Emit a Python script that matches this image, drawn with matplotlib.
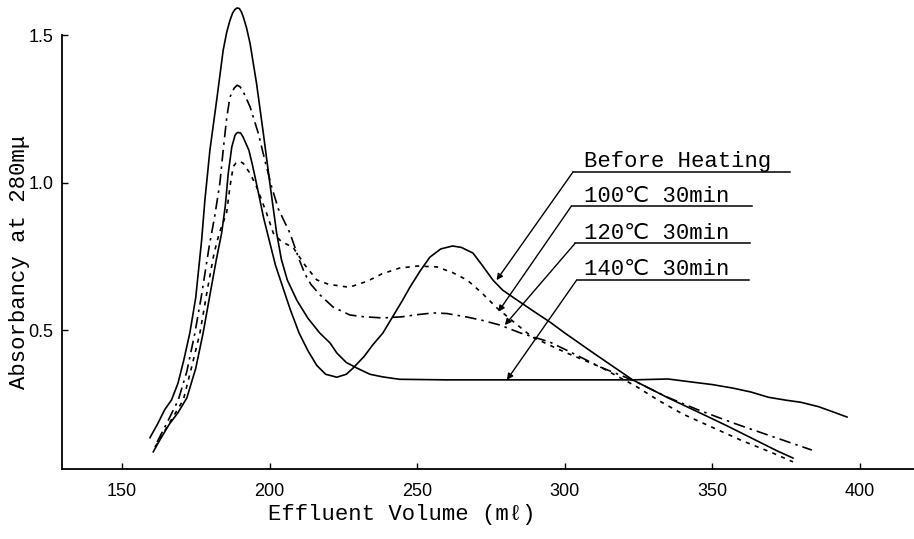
import matplotlib
matplotlib.use('Agg')
import matplotlib.pyplot as plt

# ---------------- data ----------------
vol_before = [160.6, 163, 166, 169, 172, 175, 177.5, 180, 182, 183.8, 185, 186, 187.2, 188.3, 188.8, 189.3,
              190.2, 191, 193, 194.2, 195.5, 198, 200, 202, 204, 207, 210, 213, 216, 219, 222.8, 226, 228.3,
              232, 235, 238.4, 242, 245, 247.6, 251, 254.3, 258, 262, 265, 268.9, 272, 275.7,
              279, 283.8, 290, 295, 300, 310, 323, 335, 345.8, 355, 365, 372, 377.3]
abs_before = [0.087, 0.13, 0.18, 0.22, 0.27, 0.37, 0.49, 0.63, 0.74, 0.83, 0.92, 1.03, 1.12, 1.16, 1.167, 1.17,
              1.168, 1.155, 1.11, 1.06, 1.0, 0.88, 0.80, 0.72, 0.66, 0.57, 0.49, 0.43, 0.38, 0.35, 0.34, 0.35, 0.371,
              0.41, 0.45, 0.49, 0.55, 0.60, 0.646, 0.70, 0.747, 0.775, 0.785, 0.78, 0.761, 0.72, 0.669,
              0.635, 0.602, 0.56, 0.527, 0.49, 0.42, 0.331, 0.27, 0.219, 0.175, 0.125, 0.09, 0.066]

vol_100 = [161.2, 164, 167, 170.8, 173.5, 176.4, 179, 181.2, 183, 184.5, 185.5, 186.6, 187.7, 188.6, 189.4,
           190.3, 191.1, 193.4, 195.6, 199, 201.3, 204, 208, 212, 216, 220, 227, 233, 238, 244, 250,
           256.7, 262, 267, 272, 277, 283, 289, 300, 312, 324, 332, 340, 350, 360, 370, 377.3]
abs_100 = [0.103, 0.15, 0.2, 0.263, 0.37, 0.489, 0.64, 0.76, 0.83, 0.87, 0.90, 0.986, 1.054, 1.066, 1.071,
           1.07, 1.065, 1.031, 0.986, 0.896, 0.828, 0.80, 0.78, 0.72, 0.67, 0.655, 0.645, 0.665, 0.69, 0.71, 0.717,
           0.714, 0.695, 0.669, 0.625, 0.575, 0.525, 0.476, 0.425, 0.375, 0.31, 0.26, 0.215, 0.17, 0.125, 0.085, 0.053]

vol_120 = [161.9, 165, 169.1, 172, 174.7, 177, 179.5, 181.5, 183.2, 184.3, 185.5, 186.6, 188, 189,
           190, 191.1, 193.4, 196.2, 198.4, 200.7, 203, 206.9, 210, 212, 214, 217, 221.5, 227.2, 232,
           238.4, 245, 250, 255.4, 260, 266.9, 272, 278, 285, 295, 303, 311.9, 323, 334.6, 345,
           357, 370, 383.7]
abs_120 = [0.12, 0.18, 0.263, 0.36, 0.489, 0.62, 0.78, 0.89, 1.0, 1.11, 1.22, 1.29, 1.32, 1.33,
           1.325, 1.308, 1.257, 1.167, 1.076, 0.986, 0.91, 0.829, 0.74, 0.69, 0.655, 0.62, 0.578, 0.551, 0.545,
           0.541, 0.545, 0.552, 0.558, 0.556, 0.544, 0.533, 0.517, 0.49, 0.459, 0.42, 0.375, 0.33, 0.273, 0.23,
           0.185, 0.14, 0.093]

vol_140 = [159.5, 162, 164.5, 166.8, 169, 171, 173, 175, 177, 178.1, 179.8, 182.1, 184.3, 185.5, 186.6,
           187.5, 188.3, 189, 189.8, 190.5, 191.1, 192.2, 193.4, 195.6, 197.9, 200.1, 202.4, 204, 206,
           209.3, 213, 217, 220.5, 222.8, 226, 229.6, 234, 238.4, 244, 260, 280, 300, 323, 335, 342,
           350, 357, 363, 369, 375, 380, 386, 391, 395.6]
abs_140 = [0.135, 0.18, 0.23, 0.263, 0.32, 0.40, 0.49, 0.61, 0.805, 0.94, 1.11, 1.28, 1.449, 1.51, 1.55,
           1.575, 1.587, 1.592, 1.59, 1.578, 1.562, 1.525, 1.472, 1.336, 1.167, 0.998, 0.829, 0.74, 0.67,
           0.60, 0.54, 0.49, 0.456, 0.422, 0.39, 0.371, 0.35, 0.341, 0.333, 0.331, 0.331, 0.331, 0.331, 0.334,
           0.325, 0.315, 0.303, 0.29, 0.272, 0.262, 0.255, 0.24, 0.222, 0.205]

series_labels = ['Before Heating', '100℃ 30min', '120℃ 30min', '140℃ 30min']
x_ticks = [150, 200, 250, 300, 350, 400]
y_ticks = [0.5, 1.0, 1.5]
y_tick_labels = ['0.5', '1.0', '1.5']

# ---------------- layout / styles ----------------
mono = ['Liberation Mono', 'DejaVu Sans Mono', 'DejaVu Sans']
sans = ['Liberation Sans', 'DejaVu Sans']

fig = plt.figure(figsize=(9.14, 5.39), dpi=100)
ax = fig.add_axes([62 / 914, 70 / 539, 852 / 914, 469 / 539])
ax.set_xlim(129.7, 418.3)
ax.set_ylim(0.0288, 1.619)

lw = 1.2
ax.plot(vol_before, abs_before, color='black', lw=lw, solid_joinstyle='round')
ax.plot(vol_100, abs_100, color='black', lw=lw, linestyle=(0, (2.5, 3.2)))
ax.plot(vol_120, abs_120, color='black', lw=lw, linestyle=(0, (7, 3, 1.5, 3)))
ax.plot(vol_140, abs_140, color='black', lw=lw, solid_joinstyle='round')

for s in ['top', 'right']:
    ax.spines[s].set_visible(False)
for s in ['left', 'bottom']:
    ax.spines[s].set_linewidth(1.3)
ax.spines['left'].set_bounds(0.0288, 1.5)

ax.set_xticks(x_ticks)
ax.set_xticklabels([str(t) for t in x_ticks], family=sans, fontsize=13)
ax.set_yticks(y_ticks)
ax.set_yticklabels(y_tick_labels, family=sans, fontsize=13)
ax.tick_params(axis='x', direction='in', length=4, width=1, pad=10)
ax.tick_params(axis='y', direction='in', length=4, width=1, pad=6)

ax.set_xlabel('Effluent Volume (mℓ)', family=mono, fontsize=16)
ax.xaxis.set_label_coords(0.399, -0.074)
ax.set_ylabel('Absorbancy at 280mμ', family=mono, fontsize=16)
ax.yaxis.set_label_coords(-0.037, 0.441)

# annotation layout (label text position, underline span, arrow tip)
text_x = 306.4
text_y = [1.054, 0.935, 0.808, 0.686]
line_y = [1.036, 0.921, 0.794, 0.669]
line_x0 = [302.8, 302.3, 303.5, 304.0]
line_x1 = [376.3, 363.3, 362.7, 362.5]
tips = [(276.9, 0.669), (277.5, 0.562), (279.7, 0.517), (280.4, 0.331)]

for lab, ty, ly, x0, x1, tip in zip(series_labels, text_y, line_y, line_x0, line_x1, tips):
    ax.text(text_x, ty, lab, family=mono, fontsize=16, va='baseline', ha='left')
    ax.plot([x0, x1], [ly, ly], color='black', lw=1.1)
    ax.annotate('', xy=tip, xytext=(x0, ly),
                arrowprops=dict(arrowstyle='-|>', color='black', lw=1.0,
                                mutation_scale=9, shrinkA=0, shrinkB=0))

fig.savefig('out.png', dpi=100)
